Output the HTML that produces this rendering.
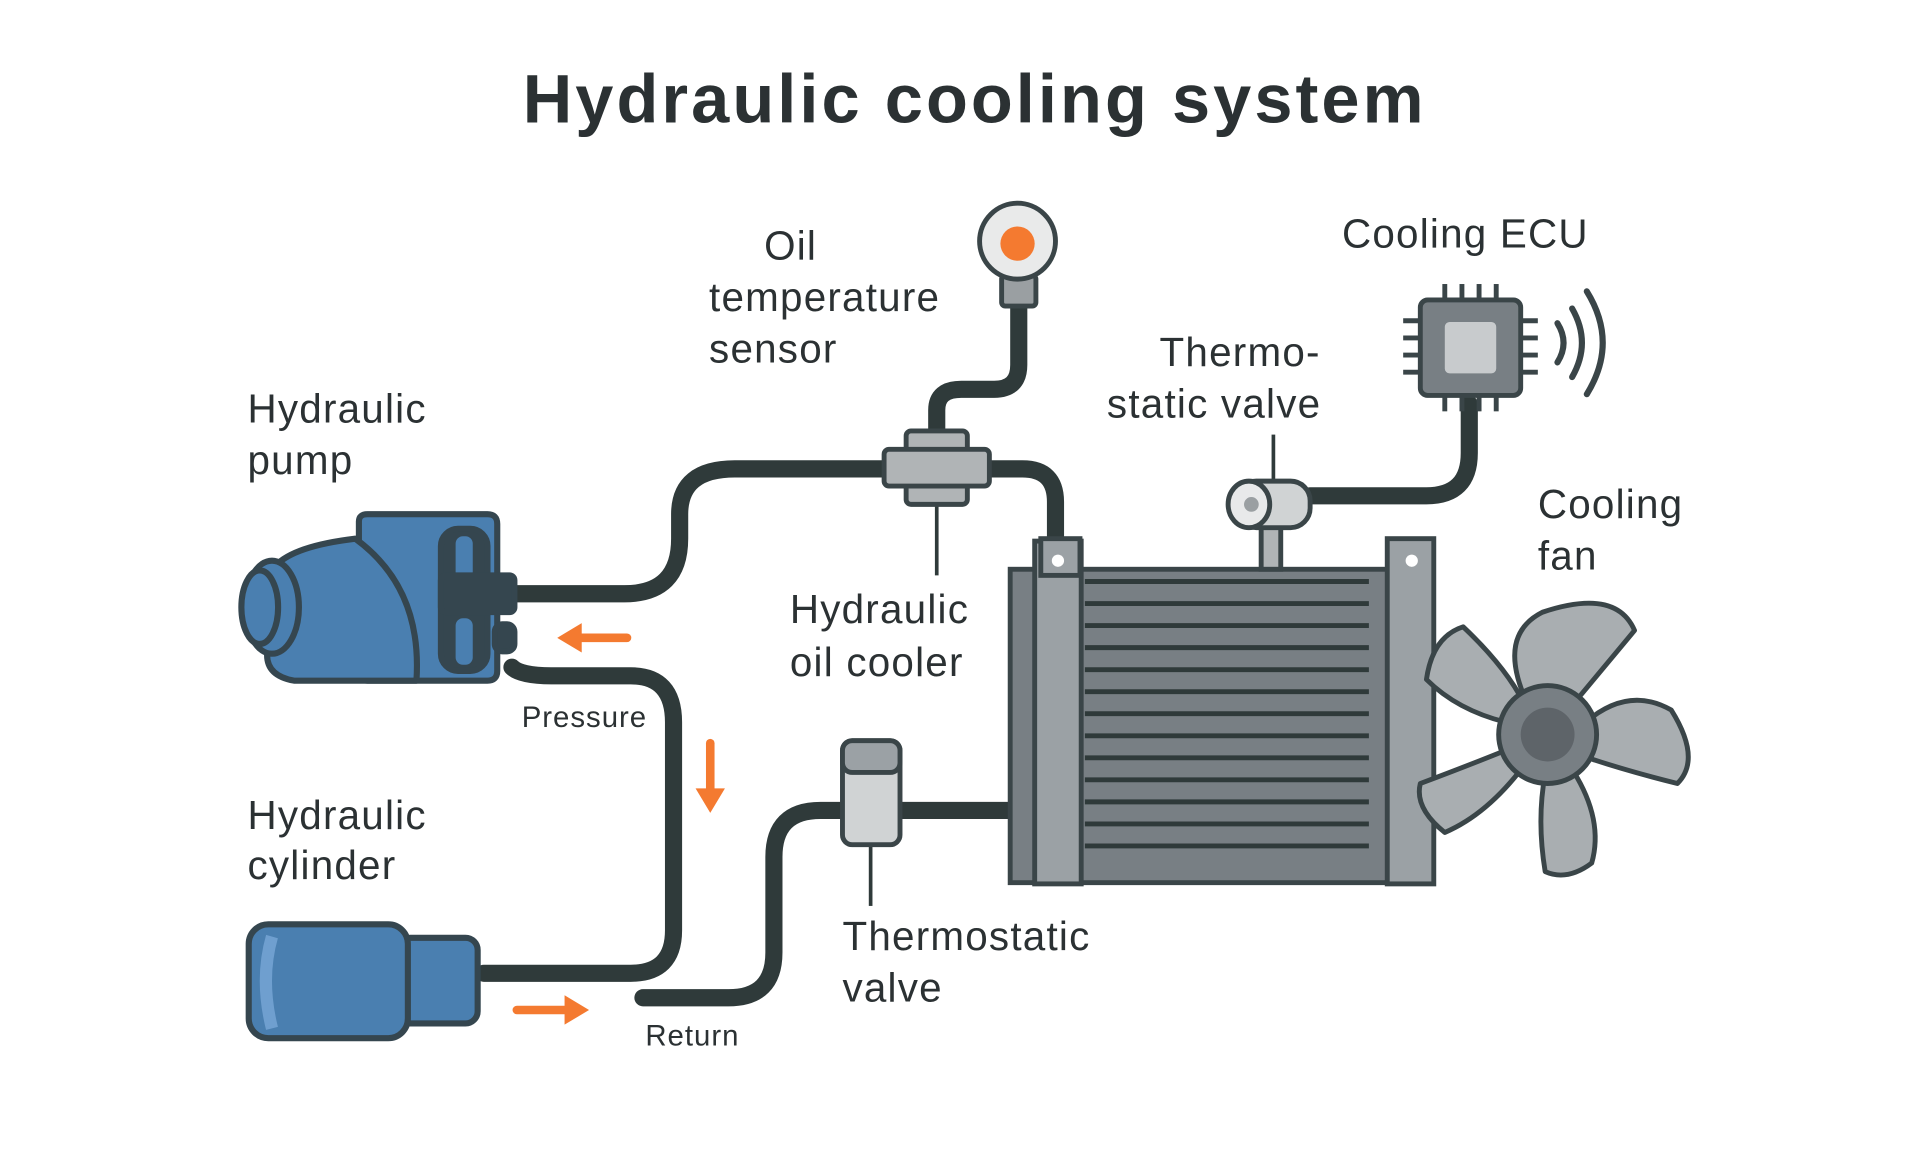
<!DOCTYPE html>
<html><head><meta charset="utf-8"><style>
html,body{margin:0;padding:0;background:#fff;}
svg{display:block}
text{font-family:"Liberation Sans",sans-serif;fill:#2b3133}
</style></head><body>
<svg width="1920" height="1152" viewBox="0 0 1568 941" xmlns="http://www.w3.org/2000/svg">
<rect width="1568" height="941" fill="#fff"/>
<text x="796" y="100" font-size="56" text-anchor="middle" font-weight="bold" letter-spacing="2.5" fill="#2b3133">Hydraulic cooling system</text>

<!-- pipes -->
<g fill="none" stroke="#2f3a3a" stroke-width="14" stroke-linecap="round" stroke-linejoin="round">
<path d="M420 485 H510 Q555 485 555 440 V420 Q555 383 600 383 H730"/>
<path d="M800 383 H835 Q862 383 862 410 V445"/>
<path d="M765 350 V335 Q765 318 785 318 H812 Q832 318 832 298 V250"/>
<path d="M418 545 Q425 552 450 552 H515 Q550 552 550 590 V760 Q550 795 515 795 H395"/>
<path d="M525 815 H595 Q632 815 632 778 V700 Q632 662 670 662 H692"/>
<path d="M735 662 H825"/>
<path d="M1070 405 H1165 Q1200 405 1200 370 V330"/>
</g>
<g stroke="#2f3a3a" stroke-width="3" fill="none">
<line x1="765" y1="410" x2="765" y2="470"/>
<line x1="711" y1="690" x2="711" y2="740"/>
<line x1="1040" y1="355" x2="1040" y2="395"/>
</g>

<!-- pump -->
<g stroke="#35464f" stroke-width="5" stroke-linejoin="round">
<path d="M293 426 Q293 420 300 420 H398 Q406 420 406 428 V548 Q406 556 398 556 H300 Q293 556 293 550 Z" fill="#4a7fb0"/>
<path d="M225 462 Q240 446 290 440 Q345 480 340 556 H240 Q218 552 218 535 Z" fill="#4a7fb0"/>
<ellipse cx="222" cy="496" rx="22" ry="38" fill="#4a7fb0"/>
<ellipse cx="212" cy="496" rx="15" ry="30" fill="#4a7fb0"/>
<rect x="360" y="432" width="38" height="116" rx="14" fill="#35464f"/>
<rect x="372" y="438" width="14" height="35" rx="6" fill="#4a7fb0" stroke="none"/>
<rect x="372" y="505" width="14" height="38" rx="6" fill="#4a7fb0" stroke="none"/>
<rect x="360" y="470" width="60" height="30" rx="4" fill="#35464f"/>
<rect x="404" y="510" width="16" height="22" rx="6" fill="#35464f"/>
</g>

<!-- cylinder -->
<g stroke="#35464f" stroke-width="5">
<rect x="325" y="766" width="65" height="70" rx="10" fill="#4a7fb0"/>
<rect x="203" y="755" width="130" height="93" rx="16" fill="#4a7fb0"/>
<path d="M222 765 Q212 800 222 840" stroke="#6f9fcf" stroke-width="10" fill="none"/>
</g>

<!-- orange arrows -->
<g fill="#f47a30" stroke="#f47a30" stroke-width="7" stroke-linecap="round">
<line x1="512" y1="521" x2="470" y2="521"/><polygon points="455,521 475,509 475,533" stroke="none"/>
<line x1="580" y1="607" x2="580" y2="648"/><polygon points="580,664 568,644 592,644" stroke="none"/>
<line x1="422" y1="825" x2="465" y2="825"/><polygon points="481,825 461,813 461,837" stroke="none"/>
</g>

<!-- tee -->
<g stroke="#3a4548" stroke-width="4" fill="#b0b4b6">
<rect x="740" y="352" width="50" height="60" rx="4"/>
<rect x="722" y="367" width="86" height="30" rx="4"/>
</g>

<!-- oil temp sensor -->
<g stroke="#3a4548" stroke-width="4">
<rect x="818" y="225" width="28" height="25" rx="3" fill="#9a9fa2"/>
<circle cx="831" cy="197" r="31" fill="#e9eaea"/>
<circle cx="831" cy="199" r="14" fill="#f47a30" stroke="none"/>
</g>

<!-- cooler -->
<g stroke="#3a4548" stroke-width="4">
<rect x="825" y="465" width="345" height="256" fill="#787f84"/>
<rect x="845" y="442" width="38" height="280" fill="#9ba1a5"/>
<rect x="1133" y="440" width="38" height="282" fill="#9ba1a5"/>
<rect x="850" y="440" width="32" height="30" fill="#9ba1a5"/>
</g>
<circle cx="864" cy="458" r="5" fill="#fff"/><circle cx="1153" cy="458" r="5" fill="#fff"/>
<g stroke="#2f3a3a" stroke-width="4">
<line x1="886" y1="475" x2="1118" y2="475"/><line x1="886" y1="493" x2="1118" y2="493"/>
<line x1="886" y1="511" x2="1118" y2="511"/><line x1="886" y1="529" x2="1118" y2="529"/>
<line x1="886" y1="547" x2="1118" y2="547"/><line x1="886" y1="565" x2="1118" y2="565"/>
<line x1="886" y1="583" x2="1118" y2="583"/><line x1="886" y1="601" x2="1118" y2="601"/>
<line x1="886" y1="619" x2="1118" y2="619"/><line x1="886" y1="637" x2="1118" y2="637"/>
<line x1="886" y1="655" x2="1118" y2="655"/><line x1="886" y1="673" x2="1118" y2="673"/>
<line x1="886" y1="691" x2="1118" y2="691"/>
</g>

<!-- top thermo valve -->
<g stroke="#3a4548" stroke-width="4">
<rect x="1030" y="425" width="16" height="40" fill="#b0b4b6"/>
<rect x="1010" y="393" width="60" height="38" rx="16" fill="#d0d3d4"/>
<ellipse cx="1020" cy="412" rx="17" ry="19" fill="#e8e9ea"/>
<circle cx="1022" cy="412" r="6" fill="#9a9fa2" stroke="none"/>
</g>

<!-- lower thermo valve -->
<g stroke="#3a4548" stroke-width="4">
<rect x="688" y="605" width="47" height="85" rx="8" fill="#d0d3d4"/>
<rect x="688" y="605" width="47" height="26" rx="8" fill="#9ba1a5"/>
</g>

<!-- ECU -->
<g stroke="#3a4548" stroke-width="4" fill="#3a4548">
<line x1="1180" y1="232" x2="1180" y2="250"/><line x1="1194" y1="232" x2="1194" y2="250"/><line x1="1208" y1="232" x2="1208" y2="250"/><line x1="1222" y1="232" x2="1222" y2="250"/>
<line x1="1180" y1="318" x2="1180" y2="336"/><line x1="1194" y1="318" x2="1194" y2="336"/><line x1="1208" y1="318" x2="1208" y2="336"/><line x1="1222" y1="318" x2="1222" y2="336"/>
<line x1="1146" y1="262" x2="1162" y2="262"/><line x1="1146" y1="276" x2="1162" y2="276"/><line x1="1146" y1="290" x2="1162" y2="290"/><line x1="1146" y1="304" x2="1162" y2="304"/>
<line x1="1240" y1="262" x2="1256" y2="262"/><line x1="1240" y1="276" x2="1256" y2="276"/><line x1="1240" y1="290" x2="1256" y2="290"/><line x1="1240" y1="304" x2="1256" y2="304"/>
<rect x="1160" y="245" width="82" height="78" rx="6" fill="#787f84"/>
<rect x="1180" y="263" width="42" height="42" rx="4" fill="#c8cbcd" stroke="none"/>
</g>
<g fill="none" stroke="#3a4548" stroke-width="5" stroke-linecap="round">
<path d="M1272 264 Q1282 280 1272 296"/>
<path d="M1284 252 Q1300 280 1284 308"/>
<path d="M1296 238 Q1322 280 1296 322"/>
</g>

<!-- fan -->
<g stroke="#3a4548" stroke-width="4" fill="#a9aeb1" stroke-linejoin="round">
<path d="M1250 580 Q1220 520 1260 500 Q1320 480 1335 515 Q1310 545 1285 575 Z"/>
<path d="M1295 590 Q1330 560 1365 580 Q1390 620 1370 640 Q1330 630 1300 620 Z"/>
<path d="M1285 630 Q1310 670 1300 705 Q1280 720 1262 712 Q1255 670 1262 632 Z"/>
<path d="M1245 625 Q1215 665 1180 680 Q1155 660 1160 640 Q1200 625 1232 612 Z"/>
<path d="M1230 590 Q1190 580 1165 555 Q1170 520 1195 512 Q1230 545 1245 575 Z"/>
<circle cx="1264" cy="600" r="40" fill="#787f84"/>
<circle cx="1264" cy="600" r="22" fill="#5e6469" stroke="none"/>
</g>

<!-- labels -->
<g font-size="33" letter-spacing="1">
<text x="624" y="212">Oil</text>
<text x="579" y="254">temperature</text>
<text x="579" y="296">sensor</text>
<text x="202" y="345">Hydraulic</text>
<text x="202" y="387">pump</text>
<text x="645" y="509">Hydraulic</text>
<text x="645" y="552">oil cooler</text>
<text x="202" y="677">Hydraulic</text>
<text x="202" y="718">cylinder</text>
<text x="688" y="776">Thermostatic</text>
<text x="688" y="818">valve</text>
<text x="947" y="299">Thermo-</text>
<text x="904" y="341">static valve</text>
<text x="1096" y="202">Cooling ECU</text>
<text x="1256" y="423">Cooling</text>
<text x="1256" y="465">fan</text>
</g>
<text x="426" y="594" font-size="24" letter-spacing="0.8">Pressure</text>
<text x="527" y="854" font-size="24" letter-spacing="0.8">Return</text>
</svg>
</body></html>
